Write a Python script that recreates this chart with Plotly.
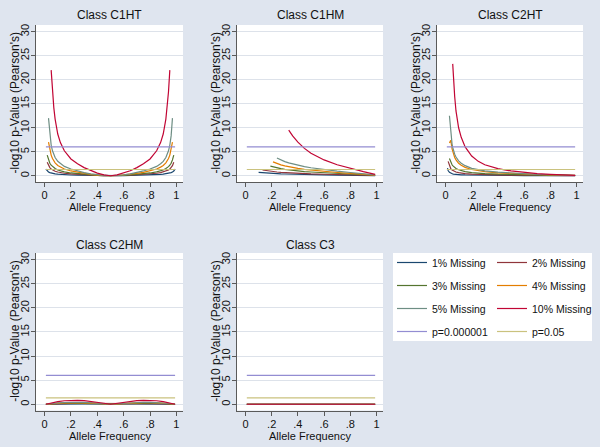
import plotly.graph_objects as go

# ---------------- data ----------------
SERIES_NAMES = ["1% Missing", "2% Missing", "3% Missing", "4% Missing", "5% Missing", "10% Missing"]
SERIES_COLORS = ["#1a476f", "#90353b", "#55752f", "#e37e00", "#6e8e84", "#c10534"]

THRESH_NAMES = ["p=0.000001", "p=0.05"]
THRESH_COLORS = ["#938dd2", "#cac27e"]
THRESH_VALUES = [6.0, 1.30103]
THRESH_X = [0.01, 0.99]

PANEL_TITLES = ["Class C1HT", "Class C1HM", "Class C2HT", "Class C2HM", "Class C3"]
X_TITLE = "Allele Frequency"
Y_TITLE = "-log10 p-Value (Pearson's)"

X_TICKS = [0, 0.2, 0.4, 0.6, 0.8, 1]
X_TICK_TEXT = ["0", ".2", ".4", ".6", ".8", "1"]
Y_TICKS = [0, 5, 10, 15, 20, 25, 30]

# Class C1HT
C1HT_X = [0.01, 0.02, 0.03, 0.04, 0.05, 0.06, 0.07, 0.08, 0.10, 0.12, 0.15, 0.20, 0.25, 0.30, 0.35, 0.40, 0.45, 0.50,
          0.55, 0.60, 0.65, 0.70, 0.75, 0.80, 0.85, 0.88, 0.90, 0.92, 0.93, 0.94, 0.95, 0.96, 0.97, 0.98, 0.99]
C1HT_1 = [1.4, 1.0, 0.8, 0.65, 0.55, 0.48, 0.43, 0.39, 0.33, 0.28, 0.22, 0.16, 0.12, 0.08, 0.05, 0.03, 0.01, 0.0,
          0.01, 0.03, 0.05, 0.08, 0.12, 0.16, 0.22, 0.28, 0.33, 0.39, 0.43, 0.48, 0.55, 0.65, 0.8, 1.0, 1.4]
C1HT_2 = [None, 2.8, 2.1, 1.7, 1.4, 1.2, 1.05, 0.95, 0.78, 0.65, 0.52, 0.38, 0.27, 0.18, 0.11, 0.06, 0.02, 0.0,
          0.02, 0.06, 0.11, 0.18, 0.27, 0.38, 0.52, 0.65, 0.78, 0.95, 1.05, 1.2, 1.4, 1.7, 2.1, 2.8, None]
C1HT_3 = [None, 4.3, 3.3, 2.6, 2.2, 1.9, 1.65, 1.5, 1.2, 1.0, 0.8, 0.58, 0.42, 0.28, 0.17, 0.09, 0.03, 0.0,
          0.03, 0.09, 0.17, 0.28, 0.42, 0.58, 0.8, 1.0, 1.2, 1.5, 1.65, 1.9, 2.2, 2.6, 3.3, 4.3, None]
C1HT_4 = [None, None, 7.0, 5.4, 4.3, 3.6, 3.1, 2.7, 2.15, 1.8, 1.4, 1.0, 0.72, 0.48, 0.29, 0.15, 0.05, 0.0,
          0.05, 0.15, 0.29, 0.48, 0.72, 1.0, 1.4, 1.8, 2.15, 2.7, 3.1, 3.6, 4.3, 5.4, 7.0, None, None]
C1HT_5 = [None, None, 12.0, 8.3, 6.4, 5.2, 4.4, 3.8, 3.0, 2.5, 1.95, 1.4, 1.0, 0.66, 0.4, 0.2, 0.06, 0.0,
          0.06, 0.2, 0.4, 0.66, 1.0, 1.4, 1.95, 2.5, 3.0, 3.8, 4.4, 5.2, 6.4, 8.3, 12.0, None, None]
C1HT_10 = [None, None, None, None, 22.0, 17.5, 14.2, 11.8, 8.7, 6.9, 5.2, 3.5, 2.5, 1.7, 1.05, 0.55, 0.17, 0.0,
           0.17, 0.55, 1.05, 1.7, 2.5, 3.5, 5.2, 6.9, 8.7, 11.8, 14.2, 17.5, 22.0, None, None, None, None]

# Class C1HM
C1HM_X = [0.10, 0.13, 0.16, 0.19, 0.21, 0.24, 0.27, 0.30, 0.33, 0.36, 0.40, 0.45, 0.50, 0.60, 0.70, 0.80, 0.90, 0.99]
C1HM_1 = [0.7, 0.62, 0.56, 0.5, 0.47, 0.43, 0.4, 0.37, 0.34, 0.32, 0.29, 0.26, 0.23, 0.18, 0.14, 0.1, 0.07, 0.04]
C1HM_2 = [None, 1.2, 1.05, 0.93, 0.86, 0.78, 0.71, 0.65, 0.6, 0.55, 0.5, 0.44, 0.39, 0.31, 0.24, 0.17, 0.11, 0.06]
C1HM_3 = [None, None, None, 2.0, 1.85, 1.65, 1.48, 1.34, 1.22, 1.12, 1.0, 0.88, 0.78, 0.6, 0.46, 0.33, 0.21, 0.11]
C1HM_4 = [None, None, None, None, 2.9, 2.55, 2.28, 2.05, 1.86, 1.7, 1.52, 1.33, 1.17, 0.9, 0.68, 0.48, 0.3, 0.15]
C1HM_5 = [None, None, None, None, None, 3.7, 3.3, 2.95, 2.68, 2.45, 2.18, 1.9, 1.67, 1.28, 0.96, 0.68, 0.42, 0.2]
C1HM_10 = [None, None, None, None, None, None, None, None, 9.5, 8.3, 7.0, 5.7, 4.7, 3.3, 2.3, 1.5, 0.85, 0.3]

# Class C2HT
C2HT_X = [0.015, 0.02, 0.03, 0.04, 0.05, 0.055, 0.06, 0.07, 0.08, 0.10, 0.12, 0.15, 0.20, 0.25, 0.30, 0.40, 0.50,
          0.60, 0.70, 0.80, 0.90, 0.99]
C2HT_1 = [1.6, 1.1, 0.7, 0.5, 0.4, 0.37, 0.34, 0.3, 0.27, 0.23, 0.2, 0.17, 0.13, 0.11, 0.09, 0.07, 0.05,
          0.04, 0.03, 0.02, 0.015, 0.01]
C2HT_2 = [None, 3.0, 2.0, 1.5, 1.2, 1.1, 1.0, 0.88, 0.78, 0.64, 0.55, 0.45, 0.35, 0.28, 0.23, 0.17, 0.13,
          0.1, 0.08, 0.06, 0.04, 0.03]
C2HT_3 = [None, None, 3.6, 2.8, 2.3, 2.1, 1.95, 1.7, 1.5, 1.25, 1.05, 0.87, 0.66, 0.53, 0.44, 0.32, 0.24,
          0.18, 0.14, 0.1, 0.07, 0.05]
C2HT_4 = [None, None, 6.8, 7.4, 5.6, 5.0, 4.5, 3.8, 3.3, 2.6, 2.2, 1.75, 1.3, 1.05, 0.87, 0.62, 0.46,
          0.35, 0.26, 0.19, 0.13, 0.08]
C2HT_5 = [None, None, 12.5, 8.5, 6.6, 5.9, 5.3, 4.5, 3.9, 3.1, 2.6, 2.1, 1.55, 1.25, 1.03, 0.74, 0.55,
          0.41, 0.3, 0.22, 0.15, 0.1]
C2HT_10 = [None, None, None, None, None, 23.3, 20.5, 16.5, 13.5, 10.0, 8.0, 6.0, 4.1, 3.0, 2.3, 1.5, 1.0,
           0.7, 0.45, 0.3, 0.18, 0.1]

# Class C2HM
C2HM_X = [0.01, 0.05, 0.10, 0.15, 0.20, 0.25, 0.30, 0.35, 0.40, 0.45, 0.50,
          0.55, 0.60, 0.65, 0.70, 0.75, 0.80, 0.85, 0.90, 0.95, 0.99]
C2HM_1 = [0.0, 0.03, 0.05, 0.07, 0.08, 0.08, 0.08, 0.06, 0.04, 0.02, 0.0,
          0.02, 0.04, 0.06, 0.08, 0.08, 0.08, 0.07, 0.05, 0.03, 0.0]
C2HM_2 = [0.0, 0.06, 0.11, 0.14, 0.16, 0.16, 0.15, 0.12, 0.08, 0.04, 0.0,
          0.04, 0.08, 0.12, 0.15, 0.16, 0.16, 0.14, 0.11, 0.06, 0.0]
C2HM_3 = [0.0, 0.09, 0.16, 0.22, 0.24, 0.25, 0.23, 0.19, 0.13, 0.06, 0.0,
          0.06, 0.13, 0.19, 0.23, 0.25, 0.24, 0.22, 0.16, 0.09, 0.0]
C2HM_4 = [0.0, 0.12, 0.22, 0.29, 0.32, 0.33, 0.3, 0.25, 0.17, 0.08, 0.0,
          0.08, 0.17, 0.25, 0.3, 0.33, 0.32, 0.29, 0.22, 0.12, 0.0]
C2HM_5 = [0.0, 0.15, 0.27, 0.36, 0.4, 0.41, 0.38, 0.31, 0.21, 0.1, 0.0,
          0.1, 0.21, 0.31, 0.38, 0.41, 0.4, 0.36, 0.27, 0.15, 0.0]
C2HM_10 = [0.0, 0.3, 0.55, 0.72, 0.8, 0.82, 0.76, 0.62, 0.42, 0.2, 0.0,
           0.2, 0.42, 0.62, 0.76, 0.82, 0.8, 0.72, 0.55, 0.3, 0.0]

# Class C3
C3_X = [0.01, 0.99]
C3_1 = [0.0, 0.0]
C3_2 = [0.0, 0.0]
C3_3 = [0.0, 0.0]
C3_4 = [0.0, 0.0]
C3_5 = [0.0, 0.0]
C3_10 = [0.0, 0.0]

PANELS = [
    (C1HT_X, [C1HT_1, C1HT_2, C1HT_3, C1HT_4, C1HT_5, C1HT_10]),
    (C1HM_X, [C1HM_1, C1HM_2, C1HM_3, C1HM_4, C1HM_5, C1HM_10]),
    (C2HT_X, [C2HT_1, C2HT_2, C2HT_3, C2HT_4, C2HT_5, C2HT_10]),
    (C2HM_X, [C2HM_1, C2HM_2, C2HM_3, C2HM_4, C2HM_5, C2HM_10]),
    (C3_X, [C3_1, C3_2, C3_3, C3_4, C3_5, C3_10]),
]

# ---------------- layout geometry ----------------
W, H = 600, 447
COL_PX = [(36, 183), (237, 383), (437, 583)]
ROW_PX = [(25, 182), (253, 410.5)]
POSITIONS = [(0, 0), (0, 1), (0, 2), (1, 0), (1, 1)]
TITLE_Y_PX = [15, 245]
XTITLE_Y_PX = [207, 436]
YTITLE_DX = 21   # px left of plot area

FONT = "Liberation Sans, Arial, sans-serif"
BG = "#dfe5ef"
GRID = "#dde2ea"
AXIS = "#5a5a5a"
TXT = "#111111"

fig = go.Figure()

for p, ((xs, ys_list), (r, c)) in enumerate(zip(PANELS, POSITIONS)):
    n = p + 1
    xref = "x" if n == 1 else f"x{n}"
    yref = "y" if n == 1 else f"y{n}"
    for i, (name, col, ys) in enumerate(zip(SERIES_NAMES, SERIES_COLORS, ys_list)):
        fig.add_trace(go.Scatter(
            x=xs, y=ys, mode="lines", name=name,
            line=dict(color=col, width=1.2),
            xaxis=xref, yaxis=yref,
            legendgroup=name, showlegend=(p == 0),
            legend="legend" if i % 2 == 0 else "legend2",
        ))
    for j, (name, col, val) in enumerate(zip(THRESH_NAMES, THRESH_COLORS, THRESH_VALUES)):
        fig.add_trace(go.Scatter(
            x=THRESH_X, y=[val] * len(THRESH_X), mode="lines", name=name,
            line=dict(color=col, width=1.2),
            xaxis=xref, yaxis=yref,
            legendgroup=name, showlegend=(p == 0),
            legend="legend" if j == 0 else "legend2",
        ))

    x0, x1 = COL_PX[c]
    y0, y1 = ROW_PX[r]
    xd = [x0 / W, x1 / W]
    yd = [1 - y1 / H, 1 - y0 / H]
    xkey = "xaxis" if n == 1 else f"xaxis{n}"
    ykey = "yaxis" if n == 1 else f"yaxis{n}"
    fig.update_layout({
        xkey: dict(
            domain=xd, anchor=yref, range=[-0.065, 1.05],
            tickvals=X_TICKS, ticktext=X_TICK_TEXT,
            ticks="outside", ticklen=4, tickwidth=1, tickcolor=AXIS,
            ticklabelstandoff=-1,
            showline=True, linecolor=AXIS, linewidth=1,
            showgrid=False, zeroline=False,
            tickfont=dict(size=11, color=TXT, family=FONT),
        ),
        ykey: dict(
            domain=yd, anchor=xref, range=[-1.3, 31.4],
            tickvals=Y_TICKS, tickangle=-90,
            ticks="outside", ticklen=4, tickwidth=1, tickcolor=AXIS,
            ticklabelstandoff=-2,
            showline=True, linecolor=AXIS, linewidth=1,
            showgrid=True, gridcolor=GRID, gridwidth=1, zeroline=False,
            tickfont=dict(size=11, color=TXT, family=FONT),
        ),
    })
    # panel title
    fig.add_annotation(
        x=(x0 + x1) / 2 / W, y=1 - TITLE_Y_PX[r] / H, xref="paper", yref="paper",
        text=PANEL_TITLES[p], showarrow=False, xanchor="center", yanchor="middle",
        font=dict(size=12, color=TXT, family=FONT),
    )
    # x-axis title
    fig.add_annotation(
        x=(x0 + x1) / 2 / W, y=1 - XTITLE_Y_PX[r] / H, xref="paper", yref="paper",
        text=X_TITLE, showarrow=False, xanchor="center", yanchor="middle",
        font=dict(size=11, color=TXT, family=FONT),
    )
    # y-axis title
    fig.add_annotation(
        x=(x0 - YTITLE_DX) / W, y=1 - (y0 + y1) / 2 / H, xref="paper", yref="paper",
        text=Y_TITLE, showarrow=False, xanchor="center", yanchor="middle", textangle=-90,
        font=dict(size=12, color=TXT, family=FONT),
    )

# white legend box
fig.add_shape(type="rect", xref="paper", yref="paper",
              x0=393 / W, x1=592 / W, y0=1 - 341 / H, y1=1 - 253 / H,
              fillcolor="white", line=dict(width=0), layer="below")

legend_common = dict(
    xanchor="left", yanchor="top", bgcolor="rgba(0,0,0,0)",
    font=dict(size=10.5, color=TXT, family=FONT),
    traceorder="grouped", tracegroupgap=4, itemwidth=30,
    orientation="v",
)
fig.update_layout(
    width=W, height=H,
    margin=dict(l=0, r=0, t=0, b=0),
    paper_bgcolor=BG, plot_bgcolor="white",
    font=dict(family=FONT, color=TXT),
    legend=dict(x=392 / W, y=1 - 248 / H, **legend_common),
    legend2=dict(x=492 / W, y=1 - 248 / H, **legend_common),
)

fig.write_html(
    "out.html",
    config={"displayModeBar": False},
    post_script="document.body.style.margin='0px';document.body.style.overflow='hidden';",
)
